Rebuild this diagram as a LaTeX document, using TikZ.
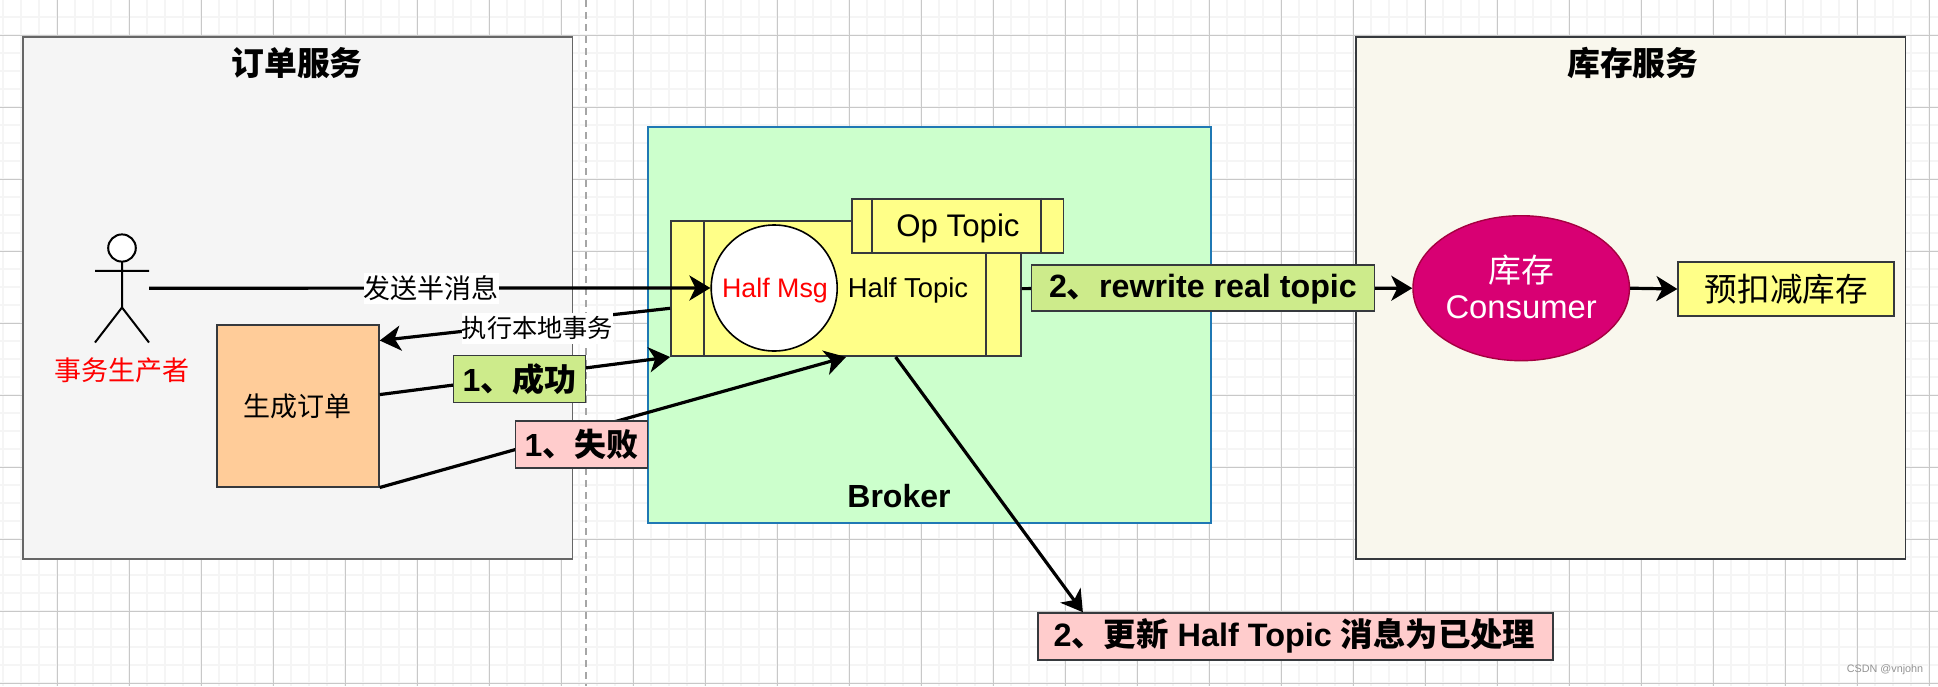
\documentclass[tikz,border=0pt]{standalone}
\usepackage{fontspec}
\setmainfont{Liberation Sans}
\newfontfamily\cjk{Noto Sans CJK SC}
\usetikzlibrary{arrows.meta,calc,shapes.geometric}
\definecolor{strokedark}{HTML}{36393D}
\definecolor{strokegray}{HTML}{666666}
\definecolor{panelgray}{HTML}{F5F5F5}
\definecolor{panelcream}{HTML}{F9F7ED}
\definecolor{brokerfill}{HTML}{CCFFCC}
\definecolor{brokerline}{HTML}{1F78B4}
\definecolor{topicfill}{HTML}{FFFF88}
\definecolor{orderfill}{HTML}{FFCC99}
\definecolor{greenfill}{HTML}{CDEB8B}
\definecolor{pinkfill}{HTML}{FFCCCC}
\definecolor{consumerfill}{HTML}{D80073}
\definecolor{consumerline}{HTML}{A50040}
\definecolor{gridminor}{HTML}{F5F5F5}
\definecolor{gridmajor}{HTML}{C8C8C8}
\newcommand{\fs}[1]{\fontsize{#1}{38}\selectfont}
\tikzset{
  x=1pt,y=-1pt,
  box/.style={rectangle,draw=strokedark,line width=1.8pt,inner sep=0pt,anchor=north west},
  flow/.style={draw=black,line width=3.2pt,-{Stealth[length=21pt,width=25pt,inset=6pt]}},
  tag/.style={rectangle,draw=strokedark,line width=1.8pt,inner sep=0pt,font=\fs{32}\bfseries},
  plainlabel/.style={fill=white,inner sep=0pt,font=\fs{27}\cjk},
  sidebar/.style={draw=strokedark,line width=1.8pt},
  stick/.style={draw=black,line width=2pt},
}
\begin{document}
\begin{tikzpicture}
\useasboundingbox (0,0) rectangle (1938,686);
\fill[white] (0,0) rectangle (1938,686);
% grid
\foreach \gx in {3.3,21.3,...,1938}{\draw[gridminor,line width=2pt] (\gx,0) -- (\gx,686);}
\foreach \gy in {17.3,35.3,...,686}{\draw[gridminor,line width=2pt] (0,\gy) -- (1938,\gy);}
\foreach \gx in {57.3,129.3,...,1938}{\draw[gridmajor,line width=1.2pt] (\gx,0) -- (\gx,686);}
\foreach \gy in {35.3,107.3,...,686}{\draw[gridmajor,line width=1.2pt] (0,\gy) -- (1938,\gy);}
% divider
\draw[gray!70,line width=1.6pt,dash pattern=on 7pt off 5pt] (585.7,0) -- (585.7,686);
% panels
\node[box,fill=panelgray,draw=strokegray,minimum width=549.5pt,minimum height=522pt] (orderpanel) at (22,35.9) {};
\node[font=\fs{32.8}\cjk\bfseries] (ordertitle) at (297,63.4) {订单服务};
\node[box,fill=panelcream,minimum width=549.7pt,minimum height=522pt] (stockpanel) at (1354.8,35.9) {};
\node[font=\fs{32.8}\cjk\bfseries] (stocktitle) at (1632.8,63.4) {库存服务};
\node[box,fill=brokerfill,draw=brokerline,minimum width=563pt,minimum height=396pt] (broker) at (647.4,126.1) {};
\node[font=\fs{32}\bfseries] (brokerlabel) at (899,496) {Broker};
% actor
\node[minimum width=54pt,minimum height=107.5pt,inner sep=0pt] (actor) at (122,288.2) {};
\draw[stick,fill=white] (122,248) ellipse [x radius=13.8,y radius=13.6];
\draw[stick] (122,261.6) -- (122,307.5) (95,270.8) -- (149,270.8)
  (95,342.5) -- (122,307.5) -- (149,342.5);
\node[text=red,font=\fs{27}\cjk] (actorlabel) at (121.8,370.5) {事务生产者};
% order
\node[box,fill=orderfill,minimum width=162.1pt,minimum height=161.5pt,font=\fs{27}\cjk] (order) at (215.8,324.2) {生成订单};
% half topic
\node[box,fill=topicfill,minimum width=350pt,minimum height=135pt] (half) at (670.1,220.2) {};
\draw[sidebar] (704,220.2) -- (704,355.2) (985.7,220.2) -- (985.7,355.2);
\node[font=\fs{27.4}] (halflabel) at (908,290) {Half Topic};
\node[ellipse,draw=black,line width=1.6pt,fill=white,inner sep=0pt,minimum width=126pt,minimum height=126pt] (msg) at (774.2,288) {};
\node[text=red,font=\fs{26.8}] (msglabel) at (775,290.5) {Half Msg};
% op topic
\node[box,fill=topicfill,minimum width=211.6pt,minimum height=54.1pt] (op) at (850.9,197.9) {};
\draw[sidebar] (872.3,197.9) -- (872.3,252) (1040.6,197.9) -- (1040.6,252);
\node[font=\fs{31.2}] (oplabel) at (958,228) {Op Topic};
% consumer, stock
\node[ellipse,draw=consumerline,line width=1.4pt,fill=consumerfill,inner sep=0pt,minimum width=216.5pt,minimum height=145pt] (consumer) at (1521.2,288.2) {};
\node[text=white,font=\fs{32.8}\cjk] (consumera) at (1521.2,270) {库存};
\node[text=white,font=\fs{32.8}] (consumerb) at (1521.2,307.5) {Consumer};
\node[box,fill=topicfill,minimum width=216pt,minimum height=54.2pt,font=\fs{32.6}\cjk] (stock) at (1677.4,261) {预扣减库存};
% result tag must exist before its connector
\node[tag,fill=pinkfill,anchor=north west,minimum width=515pt,minimum height=46.5pt] (done) at (1037.4,612.2) {};
% connectors
\draw[flow] (actor.east) -- (msg.west);
\draw[flow] ($(half.north west)!0.644!(half.south west)$) -- ($(order.north east)!0.1!(order.south east)$);
\draw[flow] ($(order.north east)!0.431!(order.south east)$) -- (half.south west);
\draw[flow] (order.south east) -- (half.south);
\draw[flow] (half.east) -- (consumer.west);
\draw[flow] (consumer.east) -- (stock.west);
\draw[flow] ($(half.south west)!0.641!(half.south east)$) -- ($(done.north west)!0.088!(done.north east)$);
% connector labels
\node[plainlabel,minimum height=31pt] (sendlabel) at (431,288) {发送半消息};
\node[plainlabel,minimum height=31pt,font=\fs{25.2}\cjk] (execlabel) at (537.5,328) {执行本地事务};
\node[tag,fill=greenfill,minimum width=132pt,minimum height=47pt] (oktag) at (519.4,379) {1{\cjk 、成功}};
\node[tag,fill=pinkfill,minimum width=132pt,minimum height=46.5pt] (failtag) at (581.4,444.6) {1{\cjk 、失败}};
\node[tag,fill=greenfill,minimum width=343pt,minimum height=45.7pt,text depth=4pt,font=\fs{32.2}\bfseries] (rewritetag) at (1202.9,288.1) {2{\cjk 、}rewrite real topic};
\node[font=\fs{32.4}\bfseries] (donetext) at (1294.4,635.5) {2{\cjk 、更新} Half Topic {\cjk 消息为已处理}};
\node[text=gray!85,font=\fs{10.8}] (watermark) at (1885,670) {CSDN @vnjohn};
\end{tikzpicture}
\end{document}
